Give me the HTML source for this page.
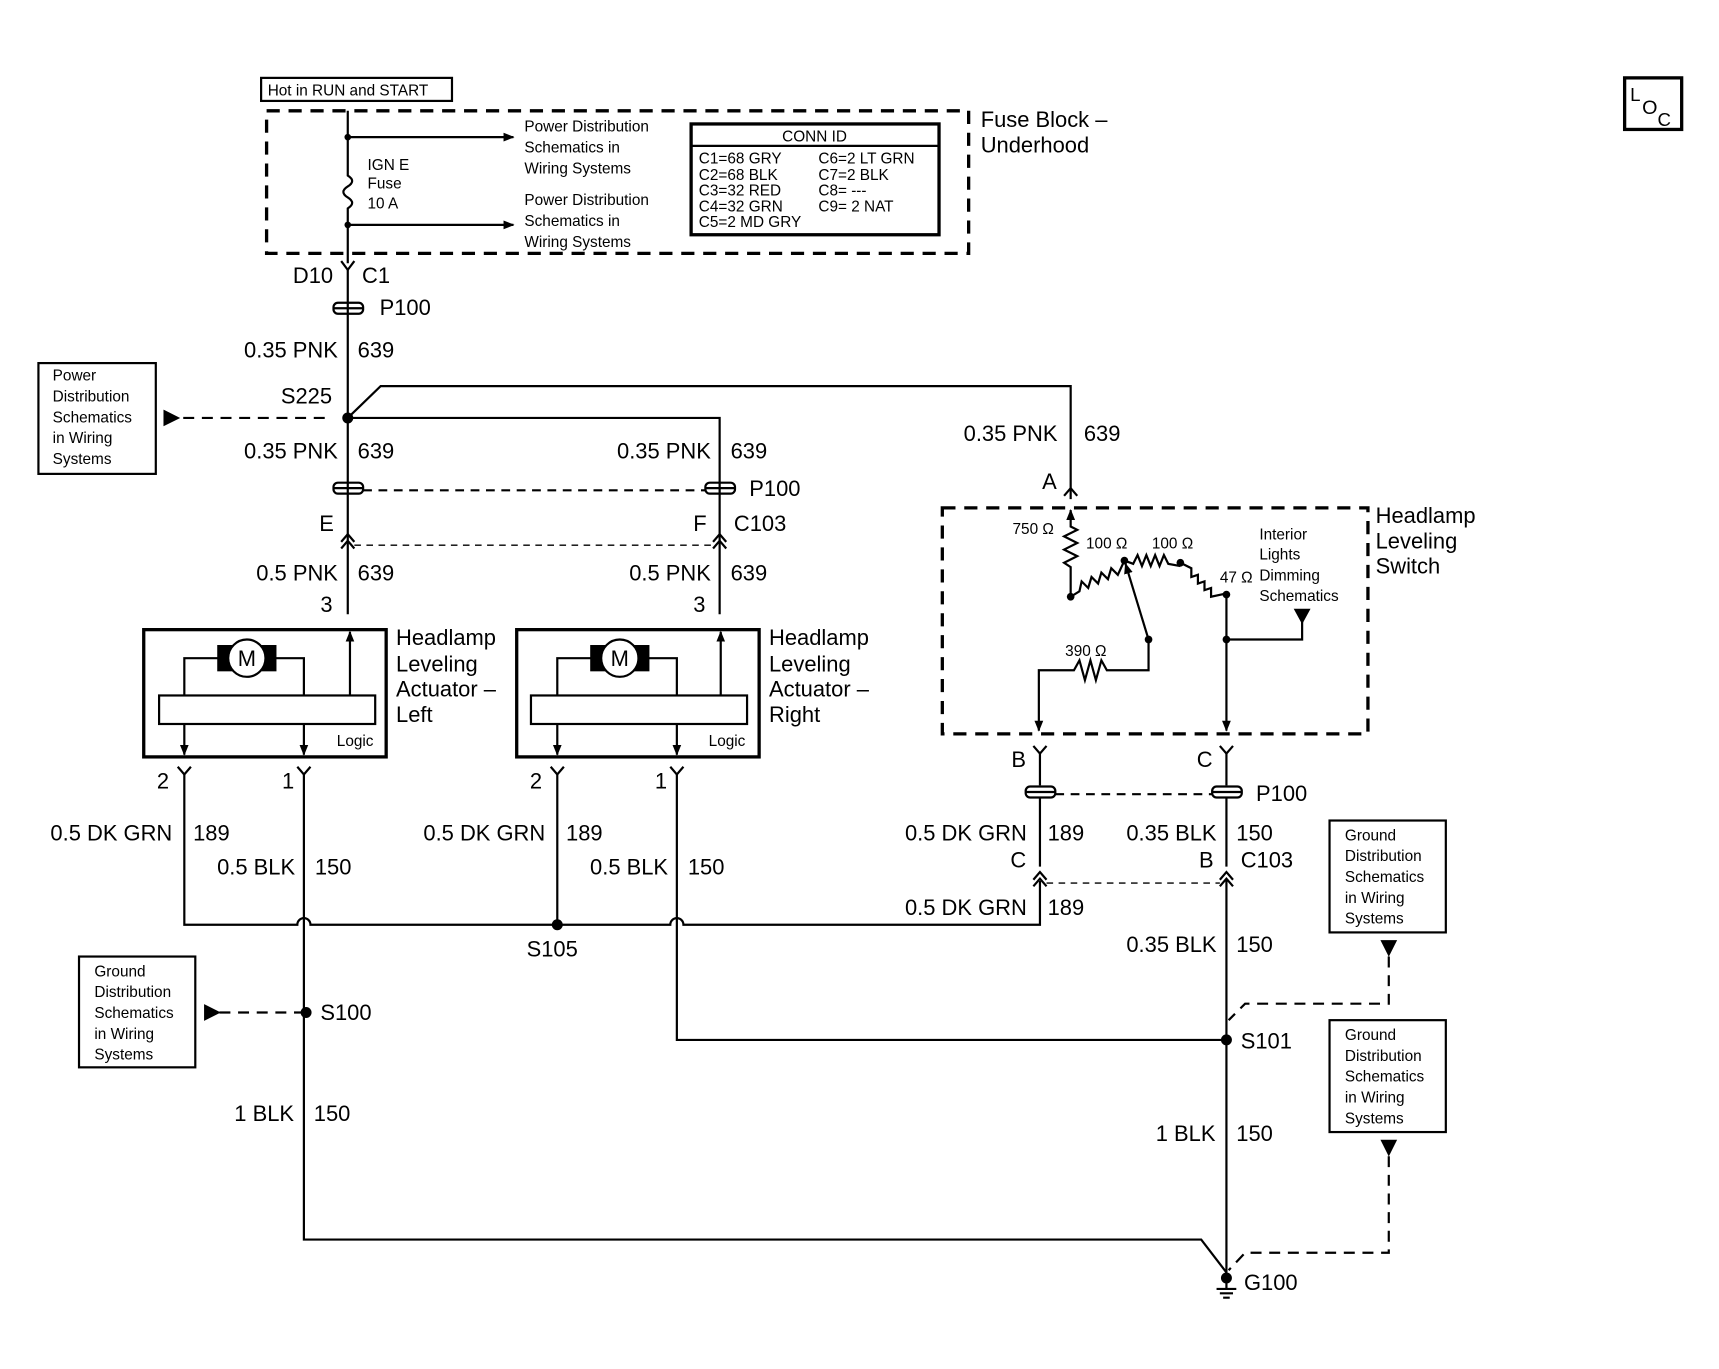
<!DOCTYPE html>
<html><head><meta charset="utf-8"><style>
html,body{margin:0;padding:0;background:#fff;}
svg{display:block;}
text{font-family:"Liberation Sans",sans-serif;fill:#000;}
.s{font-size:14px;}
.m{font-size:20px;}
</style></head><body>
<svg width="1719" height="1369" viewBox="0 0 1567 1248" xmlns="http://www.w3.org/2000/svg">
<defs>
<marker id="ah" markerWidth="10" markerHeight="10" refX="9" refY="5" orient="auto" markerUnits="userSpaceOnUse"><path d="M0,1 L10,5 L0,9 z" fill="#000"/></marker>
</defs>
<g fill="none" stroke="#000" stroke-width="2">
<rect x="1481" y="71" width="52" height="47" stroke-width="3"/>
<rect x="238" y="71" width="174" height="21"/>
<rect x="243" y="101" width="640" height="130" stroke-width="3" stroke-dasharray="12 8"/>
<path d="M317 101 V160 q8 5 0 10 q-8 5 0 10 q8 5 0 10 V240"/>
<path d="M317 125 H468" marker-end="url(#ah)"/>
<path d="M317 205 H468" marker-end="url(#ah)"/>
<rect x="630" y="113" width="226" height="101" stroke-width="3"/>
<path d="M630 133 H856"/>
<path d="M311 238 L317 246 L323 238"/>
<path d="M317 246 V560"/>
<rect x="304" y="276" width="27" height="10" rx="4"/>
<path d="M304 281 H331"/>
<path d="M317 381 L347 352 H976 V455"/>
<path d="M317 381 H656 V560"/>
<path d="M150 381 H300" stroke-dasharray="10 7"/>
<path d="M150 375 L162 381 L150 387 z" fill="#000"/>
<rect x="35" y="331" width="107" height="101"/>
<rect x="304" y="440" width="27" height="10" rx="4"/>
<path d="M304 445 H331"/>
<rect x="643" y="440" width="27" height="10" rx="4"/>
<path d="M643 445 H670"/>
<path d="M331 447 H643" stroke-dasharray="8 6"/>
<path d="M311 494 L317 487 L323 494 M311 500 L317 493 L323 500"/>
<path d="M650 494 L656 487 L662 494 M650 500 L656 493 L662 500"/>
<path d="M323 497 H650" stroke-dasharray="6 5" stroke-width="1.2"/>
<rect x="131" y="574" width="221" height="116" stroke-width="3"/>
<rect x="145" y="634" width="197" height="26"/>
<path d="M168 634 V600 H277 V634"/>
<rect x="199" y="589" width="52" height="22" fill="#000"/>
<circle cx="225" cy="600" r="17" fill="#fff"/>
<path d="M319 634 V576" marker-end="url(#ah)"/>
<path d="M168 660 V688" marker-end="url(#ah)"/>
<path d="M277 660 V688" marker-end="url(#ah)"/>
<rect x="471" y="574" width="221" height="116" stroke-width="3"/>
<rect x="484" y="634" width="197" height="26"/>
<path d="M508 634 V600 H617 V634"/>
<rect x="539" y="589" width="52" height="22" fill="#000"/>
<circle cx="565" cy="600" r="17" fill="#fff"/>
<path d="M657 634 V576" marker-end="url(#ah)"/>
<path d="M508 660 V688" marker-end="url(#ah)"/>
<path d="M617 660 V688" marker-end="url(#ah)"/>
<path d="M162 699 L168 706 L174 699 M271 699 L277 706 L283 699"/>
<path d="M502 699 L508 706 L514 699 M611 699 L617 706 L623 699"/>
<path d="M168 706 V843 H271 a6 6 0 0 1 12 0 H611 a6 6 0 0 1 12 0 H948 V803"/>
<path d="M508 706 V843"/>
<path d="M277 706 V1130 H1095 L1118 1160"/>
<path d="M617 706 V948 H1118"/>
<rect x="72" y="872" width="106" height="101"/>
<path d="M200 923 H275" stroke-dasharray="10 7"/>
<path d="M187 917 L199 923 L187 929 z" fill="#000"/>
<rect x="859" y="463" width="388" height="206" stroke-width="3" stroke-dasharray="12 8"/>
<path d="M976 545 V517 l-6 -4 l12 -6 l-12 -6 l12 -6 l-12 -6 l12 -6 l-6 -3 V465" marker-end="url(#ah)"/>
<path d="M976 544 l8 -5 l2 -9 l6 6 l3 -10 l6 6 l3 -10 l6 6 l3 -10 l6 6 l6 -13"/>
<path d="M1025 511 l8 3 l4 -8 l4 10 l4 -10 l4 10 l4 -10 l4 10 l4 -10 l4 8 l11 2"/>
<path d="M1076 513 l10 5 l0 8 l6 -2 l0 8 l6 -2 l0 8 l6 -2 l0 8 l14 -3"/>
<path d="M1118 542 V666" marker-end="url(#ah)"/>
<path d="M1118 583 H1187 V562"/>
<path d="M1181 556 H1193 L1187 567 z" fill="#000"/>
<path d="M1047 583 L1026 514" marker-end="url(#ah)"/>
<path d="M1047 583 V611 H1009 l-5 -9 l-5 18 l-5 -18 l-5 18 l-5 -18 l-5 9 H947 V666" marker-end="url(#ah)"/>
<path d="M970 452 L976 445 L982 452"/>
<path d="M942 680 L948 687 L954 680 M1112 680 L1118 687 L1124 680"/>
<path d="M948 687 V716 M1118 687 V716"/>
<rect x="935" y="717" width="27" height="10" rx="4"/>
<path d="M935 722 H962"/>
<rect x="1105" y="717" width="27" height="10" rx="4"/>
<path d="M1105 722 H1132"/>
<path d="M962 724 H1105" stroke-dasharray="8 6"/>
<path d="M948 727 V790 M1118 727 V790"/>
<path d="M942 802 L948 795 L954 802 M942 808 L948 801 L954 808"/>
<path d="M1112 802 L1118 795 L1124 802 M1112 808 L1118 801 L1124 808"/>
<path d="M954 805 H1112" stroke-dasharray="6 5" stroke-width="1.2"/>
<path d="M1118 801 V1165"/>
<rect x="1212" y="748" width="106" height="102"/>
<rect x="1212" y="930" width="106" height="102"/>
<path d="M1260 858 H1272 L1266 870 z" fill="#000"/>
<path d="M1260 1040 H1272 L1266 1052 z" fill="#000"/>
<path d="M1266 872 V915 H1135 L1120 930" stroke-dasharray="10 7"/>
<path d="M1266 1054 V1142 H1135 L1120 1158" stroke-dasharray="10 7"/>
<path d="M1118 1165 V1175 M1109 1175 H1127 M1112 1179 H1124 M1115 1183 H1121"/>
</g>
<g fill="#000">
<circle cx="317" cy="125" r="3"/><circle cx="317" cy="205" r="3"/>
<circle cx="317" cy="381" r="5"/>
<circle cx="508" cy="843" r="5"/>
<circle cx="279" cy="923" r="5"/>
<circle cx="1118" cy="948" r="5"/>
<circle cx="1118" cy="1165" r="5"/>
<circle cx="976" cy="544" r="3.5"/><circle cx="1025" cy="511" r="3.5"/><circle cx="1076" cy="513" r="3.5"/><circle cx="1118" cy="542" r="3.5"/><circle cx="1118" cy="583" r="3.5"/><circle cx="1047" cy="583" r="3.5"/>
</g>
<text x="1486" y="92" style="font-size:17px">L</text>
<text x="1497" y="104" style="font-size:18px">O</text>
<text x="1511" y="115" style="font-size:17px">C</text>
<text class="s" x="244" y="87">Hot in RUN and START</text>
<text class="s" x="335" y="155">IGN E</text><text class="s" x="335" y="172">Fuse</text><text class="s" x="335" y="190">10 A</text>
<text class="s" x="478" y="120">Power Distribution</text><text class="s" x="478" y="139">Schematics in</text><text class="s" x="478" y="158">Wiring Systems</text>
<text class="s" x="478" y="187">Power Distribution</text><text class="s" x="478" y="206">Schematics in</text><text class="s" x="478" y="225">Wiring Systems</text>
<text class="s" x="713" y="129">CONN ID</text>
<text class="s" x="637" y="149">C1=68 GRY</text><text class="s" x="637" y="164">C2=68 BLK</text><text class="s" x="637" y="178">C3=32 RED</text><text class="s" x="637" y="193">C4=32 GRN</text><text class="s" x="637" y="207">C5=2 MD GRY</text>
<text class="s" x="746" y="149">C6=2 LT GRN</text><text class="s" x="746" y="164">C7=2 BLK</text><text class="s" x="746" y="178">C8= ---</text><text class="s" x="746" y="193">C9= 2 NAT</text>
<text class="m" x="894" y="116">Fuse Block –</text><text class="m" x="894" y="139">Underhood</text>
<text class="m" x="267" y="258">D10</text><text class="m" x="330" y="258">C1</text>
<text class="m" x="346" y="287">P100</text>
<text class="m" x="308" y="326" text-anchor="end">0.35 PNK</text><text class="m" x="326" y="326">639</text>
<text class="m" x="256" y="368">S225</text>
<text class="s" x="48" y="347">Power</text><text class="s" x="48" y="366">Distribution</text><text class="s" x="48" y="385">Schematics</text><text class="s" x="48" y="404">in Wiring</text><text class="s" x="48" y="423">Systems</text>
<text class="m" x="308" y="418" text-anchor="end">0.35 PNK</text><text class="m" x="326" y="418">639</text>
<text class="m" x="648" y="418" text-anchor="end">0.35 PNK</text><text class="m" x="666" y="418">639</text>
<text class="m" x="683" y="452">P100</text>
<text class="m" x="291" y="484">E</text><text class="m" x="632" y="484">F</text><text class="m" x="669" y="484">C103</text>
<text class="m" x="308" y="529" text-anchor="end">0.5 PNK</text><text class="m" x="326" y="529">639</text>
<text class="m" x="648" y="529" text-anchor="end">0.5 PNK</text><text class="m" x="666" y="529">639</text>
<text class="m" x="292" y="558">3</text><text class="m" x="632" y="558">3</text>
<text class="m" x="225" y="607" text-anchor="middle">M</text><text class="m" x="565" y="607" text-anchor="middle">M</text>
<text class="s" x="307" y="680">Logic</text><text class="s" x="646" y="680">Logic</text>
<text class="m" x="361" y="588">Headlamp</text><text class="m" x="361" y="612">Leveling</text><text class="m" x="361" y="635">Actuator –</text><text class="m" x="361" y="658">Left</text>
<text class="m" x="701" y="588">Headlamp</text><text class="m" x="701" y="612">Leveling</text><text class="m" x="701" y="635">Actuator –</text><text class="m" x="701" y="658">Right</text>
<text class="m" x="143" y="719">2</text><text class="m" x="257" y="719">1</text><text class="m" x="483" y="719">2</text><text class="m" x="597" y="719">1</text>
<text class="m" x="157" y="766" text-anchor="end">0.5 DK GRN</text><text class="m" x="176" y="766">189</text>
<text class="m" x="269" y="797" text-anchor="end">0.5 BLK</text><text class="m" x="287" y="797">150</text>
<text class="m" x="497" y="766" text-anchor="end">0.5 DK GRN</text><text class="m" x="516" y="766">189</text>
<text class="m" x="609" y="797" text-anchor="end">0.5 BLK</text><text class="m" x="627" y="797">150</text>
<text class="m" x="480" y="872">S105</text>
<text class="s" x="86" y="890">Ground</text><text class="s" x="86" y="909">Distribution</text><text class="s" x="86" y="928">Schematics</text><text class="s" x="86" y="947">in Wiring</text><text class="s" x="86" y="966">Systems</text>
<text class="m" x="292" y="930">S100</text>
<text class="m" x="268" y="1022" text-anchor="end">1 BLK</text><text class="m" x="286" y="1022">150</text>
<text class="m" x="964" y="402" text-anchor="end">0.35 PNK</text><text class="m" x="988" y="402">639</text>
<text class="m" x="950" y="446">A</text>
<text class="s" x="923" y="487">750 Ω</text><text class="s" x="990" y="500">100 Ω</text><text class="s" x="1050" y="500">100 Ω</text><text class="s" x="1112" y="531">47 Ω</text><text class="s" x="971" y="598">390 Ω</text>
<text class="s" x="1148" y="492">Interior</text><text class="s" x="1148" y="510">Lights</text><text class="s" x="1148" y="529">Dimming</text><text class="s" x="1148" y="548">Schematics</text>
<text class="m" x="1254" y="477">Headlamp</text><text class="m" x="1254" y="500">Leveling</text><text class="m" x="1254" y="523">Switch</text>
<text class="m" x="922" y="699">B</text><text class="m" x="1091" y="699">C</text>
<text class="m" x="1145" y="730">P100</text>
<text class="m" x="936" y="766" text-anchor="end">0.5 DK GRN</text><text class="m" x="955" y="766">189</text>
<text class="m" x="1109" y="766" text-anchor="end">0.35 BLK</text><text class="m" x="1127" y="766">150</text>
<text class="m" x="921" y="791">C</text><text class="m" x="1093" y="791">B</text><text class="m" x="1131" y="791">C103</text>
<text class="m" x="936" y="834" text-anchor="end">0.5 DK GRN</text><text class="m" x="955" y="834">189</text>
<text class="m" x="1109" y="868" text-anchor="end">0.35 BLK</text><text class="m" x="1127" y="868">150</text>
<text class="s" x="1226" y="766">Ground</text><text class="s" x="1226" y="785">Distribution</text><text class="s" x="1226" y="804">Schematics</text><text class="s" x="1226" y="823">in Wiring</text><text class="s" x="1226" y="842">Systems</text>
<text class="s" x="1226" y="948">Ground</text><text class="s" x="1226" y="967">Distribution</text><text class="s" x="1226" y="986">Schematics</text><text class="s" x="1226" y="1005">in Wiring</text><text class="s" x="1226" y="1024">Systems</text>
<text class="m" x="1131" y="956">S101</text>
<text class="m" x="1108" y="1040" text-anchor="end">1 BLK</text><text class="m" x="1127" y="1040">150</text>
<text class="m" x="1134" y="1176">G100</text>
</svg>
</body></html>
